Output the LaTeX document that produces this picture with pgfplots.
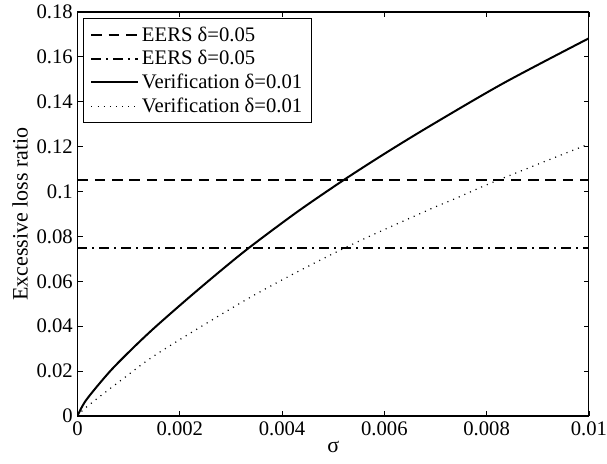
\documentclass[border=0pt]{standalone}
\usepackage{pgfplots}
\pgfplotsset{compat=1.18}
\usepackage{fontspec}
\setmainfont{Liberation Serif}
\newcommand{\fs}{\fontsize{15.5}{17}\selectfont}
\begin{document}
\begin{tikzpicture}
\begin{axis}[
  scale only axis,
  width=383.6pt, height=303pt,
  xmin=0, xmax=0.01, ymin=0, ymax=0.18,
  xtick={0,0.002,0.004,0.006,0.008,0.01},
  xticklabels={0,0.002,0.004,0.006,0.008,0.01},
  ytick={0,0.02,0.04,0.06,0.08,0.1,0.12,0.14,0.16,0.18},
  yticklabels={0,0.02,0.04,0.06,0.08,0.1,0.12,0.14,0.16,0.18},
  scaled ticks=false,
  /pgf/number format/assume math mode=true,
  tick align=inside,
  major tick length=3.8pt,
  axis line style={line width=0.8pt},
  every tick/.style={black, line width=0.6pt},
  tick label style={font=\fs},
  xticklabel style={yshift=-1pt},
  label style={font=\fontsize{16.5}{18}\selectfont},
  xlabel={σ},
  ylabel={Excessive loss ratio},
  xlabel style={at={(axis description cs:0.5,-0.0767)}, anchor=center},
  ylabel style={at={(axis description cs:-0.112,0.5)}, anchor=center},
  legend style={at={(rel axis cs:0,1)}, anchor=north west, xshift=4.3pt, yshift=-4.5pt,
    font=\fs, draw=black, line width=0.8pt,
    row sep=1pt, inner xsep=5pt, inner ysep=4pt,
    nodes={inner sep=2.2pt}},
  legend cell align=left,
  legend image code/.code={\draw[#1] (0pt,0pt) -- (35pt,0pt);},
]
\coordinate (o) at (rel axis cs:0,0);
\addplot[black, line width=1.5pt, dash pattern=on 8pt off 5pt] coordinates {(0,0.105) (0.01,0.105)};
\addlegendentry{EERS δ=0.05}
\addplot[black, line width=1.5pt, dash pattern=on 7pt off 4pt on 1.5pt off 4pt] coordinates {(0,0.075) (0.01,0.075)};
\addlegendentry{EERS δ=0.05}
\addplot[black, line width=1.5pt, smooth] coordinates {
(0,0) (0.00017,0.0071) (0.00062,0.0195) (0.00105,0.0295) (0.0015,0.0392) (0.00216,0.0524)
(0.00282,0.0651) (0.00338,0.0754) (0.0043,0.0910) (0.00519,0.1049) (0.006,0.1168)
(0.00689,0.1292) (0.00833,0.1483) (0.01,0.1683)};
\addlegendentry{Verification δ=0.01}
\addplot[black, line width=0.9pt, dash pattern=on 0.8pt off 3.8pt, smooth] coordinates {
(0,0) (0.00017,0.0039) (0.00088,0.0164) (0.00162,0.0286) (0.00345,0.0538) (0.00519,0.0745)
(0.00683,0.0915) (0.00738,0.0968) (0.00816,0.1045) (0.01,0.1212)};
\addlegendentry{Verification δ=0.01}
\end{axis}
\pgfresetboundingbox
\path[use as bounding box] (o) ++(-58.1pt,-36pt) rectangle ++(455.25pt,348pt);
\end{tikzpicture}
\end{document}
